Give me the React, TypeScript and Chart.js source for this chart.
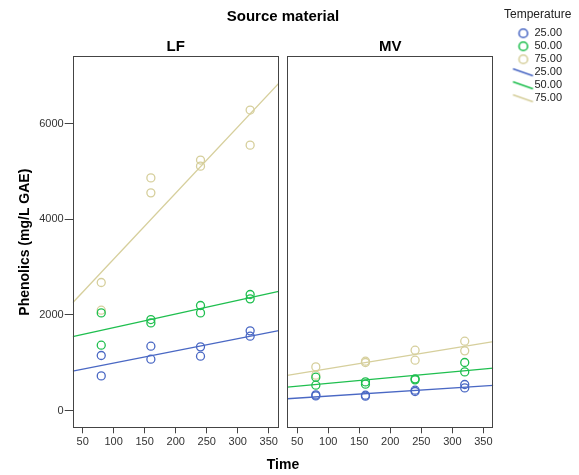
import React, { useEffect, useRef } from 'react';
import { Chart, registerables } from 'chart.js';

Chart.register(...registerables);

// ---------- data ----------
const timeValues = [80, 80, 160, 160, 240, 240, 320, 320];
const temperatureLabels = ['25.00', '50.00', '75.00'];
const panelLabels = ['LF', 'MV'];

const lf25 = [1151, 725, 1346, 1074, 1332, 1137, 1666, 1555];
const lf50 = [2042, 1367, 1903, 1833, 2196, 2042, 2426, 2335];
const lf75 = [2677, 2098, 4863, 4550, 5235, 5108, 6280, 5547];

const mv25 = [328, 307, 322, 301, 426, 399, 545, 474];
const mv50 = [698, 531, 600, 552, 663, 642, 1005, 809];
const mv75 = [913, 740, 1032, 1005, 1262, 1053, 1450, 1248];

const xTickValues = [50, 100, 150, 200, 250, 300, 350];
const yTickValues = [0, 2000, 4000, 6000];

const xMin = 34;
const xMax = 366;
const yMin = -370;
const yMax = 7410;

const temperatureColors = ['#4a68c4', '#1fbf4f', '#d6cf9c'];

// ---------- helpers ----------
function fitLine(xs: number[], ys: number[], x0: number, x1: number) {
  const n = xs.length;
  const mx = xs.reduce((a, b) => a + b, 0) / n;
  const my = ys.reduce((a, b) => a + b, 0) / n;
  let sxy = 0;
  let sxx = 0;
  for (let i = 0; i < n; i++) {
    sxy += (xs[i] - mx) * (ys[i] - my);
    sxx += (xs[i] - mx) * (xs[i] - mx);
  }
  const b = sxy / sxx;
  const a = my - b * mx;
  return [
    { x: x0, y: a + b * x0 },
    { x: x1, y: a + b * x1 },
  ];
}

function makeIcon(color: string, kind: 'circle' | 'line') {
  const c = document.createElement('canvas');
  c.width = 40;
  c.height = 12;
  const g = c.getContext('2d')!;
  g.strokeStyle = color;
  g.lineWidth = 1.6;
  g.beginPath();
  if (kind === 'circle') {
    g.arc(25.8, 6, 4.3, 0, Math.PI * 2);
  } else {
    g.moveTo(15.5, 2.5);
    g.lineTo(35.5, 9.5);
  }
  g.stroke();
  return c;
}

const panelFrame = {
  id: 'panelFrame',
  afterDatasetsDraw(chart: any) {
    const { ctx, chartArea } = chart;
    ctx.save();
    ctx.strokeStyle = '#444';
    ctx.lineWidth = 1;
    for (const id of ['xLF', 'xMV']) {
      const s = chart.scales[id];
      const l = Math.round(s.left) + 0.5;
      const r = Math.round(s.right) - 0.5;
      const t = Math.round(chartArea.top) + 0.5;
      const b = Math.round(chartArea.bottom) - 0.5;
      ctx.strokeRect(l, t, r - l, b - t);
    }
    ctx.restore();
  },
};

export default function App() {
  const canvasRef = useRef<HTMLCanvasElement | null>(null);

  useEffect(() => {
    const canvas = canvasRef.current;
    if (!canvas) return;

    Chart.defaults.font.family = "'Liberation Sans', Arial, sans-serif";

    const legendIcons = [
      ...temperatureColors.map((c) => makeIcon(c, 'circle')),
      ...temperatureColors.map((c) => makeIcon(c, 'line')),
    ];

    const panels = [
      { axis: 'xLF', series: [lf25, lf50, lf75] },
      { axis: 'xMV', series: [mv25, mv50, mv75] },
    ];

    const datasets: any[] = [];
    panels.forEach((p) => {
      p.series.forEach((vals, ti) => {
        datasets.push({
          label: temperatureLabels[ti],
          xAxisID: p.axis,
          yAxisID: 'y',
          data: vals.map((v, i) => ({ x: timeValues[i], y: v })),
          pointStyle: 'circle',
          pointRadius: 4,
          pointHoverRadius: 4,
          borderWidth: 1.3,
          borderColor: temperatureColors[ti],
          backgroundColor: 'rgba(0,0,0,0)',
          showLine: false,
        });
      });
      p.series.forEach((vals, ti) => {
        datasets.push({
          label: temperatureLabels[ti],
          xAxisID: p.axis,
          yAxisID: 'y',
          data: fitLine(timeValues, vals, xMin, xMax),
          showLine: true,
          pointRadius: 0,
          pointHoverRadius: 0,
          borderWidth: 1.3,
          borderColor: temperatureColors[ti],
          backgroundColor: temperatureColors[ti],
          fill: false,
          tension: 0,
        });
      });
    });

    const tickSetter = (values: number[]) => (scale: any) => {
      scale.ticks = values.map((v) => ({ value: v }));
    };

    const bottomAxis = (stackWeight: number) => ({
      type: 'linear',
      axis: 'x',
      position: 'bottom',
      stack: 'bottomStack',
      stackWeight,
      min: xMin,
      max: xMax,
      afterBuildTicks: tickSetter(xTickValues),
      border: { display: false },
      grid: {
        display: true,
        drawOnChartArea: false,
        drawTicks: true,
        tickLength: 5,
        color: '#444',
        lineWidth: 1,
      },
      ticks: {
        color: '#333',
        font: { size: 11 },
        padding: 1.8,
        maxRotation: 0,
        autoSkip: false,
        callback: (v: any) => String(v),
      },
    });

    const emptyAxis = (position: string, stack: string, stackWeight: number, title?: string) => ({
      type: 'linear',
      axis: 'x',
      position,
      stack,
      stackWeight,
      min: 0,
      max: 1,
      border: { display: false },
      grid: { display: false, drawTicks: false },
      ticks: { display: false },
      title: title
        ? {
            display: true,
            text: title,
            color: '#000',
            font: { size: 15, weight: 'bold' },
            padding: { top: 12, bottom: 0.5 },
          }
        : { display: false },
    });

    const chart = new Chart(canvas, {
      type: 'scatter',
      data: { datasets },
      plugins: [panelFrame],
      options: {
        animation: false,
        responsive: false,
        events: [],
        layout: { padding: { left: 0, right: 7, top: 0, bottom: 0 } },
        scales: {
          xLF: bottomAxis(206),
          xGap: emptyAxis('bottom', 'bottomStack', 8.6),
          xMV: bottomAxis(206),
          // top stack is laid out in reverse order, so MV is listed first
          xTopMV: emptyAxis('top', 'topStack', 206, panelLabels[1]),
          xTopGap: emptyAxis('top', 'topStack', 8.6),
          xTopLF: emptyAxis('top', 'topStack', 206, panelLabels[0]),
          y: {
            type: 'linear',
            position: 'left',
            min: yMin,
            max: yMax,
            afterBuildTicks: tickSetter(yTickValues),
            afterFit: (s: any) => {
              s.width = 72.7;
            },
            border: { display: false },
            grid: {
              display: true,
              drawOnChartArea: false,
              drawTicks: true,
              tickLength: 8,
              color: '#444',
              lineWidth: 1,
            },
            ticks: {
              color: '#333',
              font: { size: 11 },
              padding: 1,
              callback: (v: any) => String(v),
            },
            title: {
              display: true,
              text: 'Phenolics (mg/L GAE)',
              color: '#000',
              font: { size: 14, weight: 'bold' },
              padding: { top: 16.6, bottom: 0 },
            },
          },
          yR: {
            type: 'linear',
            position: 'right',
            min: 0,
            max: 1,
            afterFit: (s: any) => {
              s.width = 10.7;
            },
            border: { display: false },
            grid: { display: false, drawTicks: false },
            ticks: { display: false },
          },
        } as any,
        plugins: {
          title: {
            display: true,
            text: 'Source material',
            color: '#000',
            font: { size: 15, weight: 'bold' },
            padding: { top: 7.5, bottom: 0 },
            fullSize: false,
          },
          subtitle: {
            display: true,
            text: 'Time',
            position: 'bottom',
            color: '#000',
            font: { size: 14, weight: 'bold' },
            padding: { top: 6.5, bottom: 1.6 },
            fullSize: false,
          },
          legend: {
            display: true,
            position: 'right',
            align: 'start',
            title: {
              display: true,
              text: 'Temperature',
              color: '#222',
              position: 'start',
              font: { size: 12 },
              padding: { top: 9, bottom: 2.4 },
            },
            labels: {
              usePointStyle: true,
              pointStyleWidth: 23,
              boxHeight: 6,
              padding: 2,
              color: '#222',
              font: { size: 11 },
              generateLabels: (ch: any) => {
                const items = (Chart.defaults.plugins.legend.labels as any).generateLabels(ch);
                return items
                  .filter((it: any) => it.datasetIndex < 6)
                  .map((it: any) => ({
                    ...it,
                    pointStyle: legendIcons[it.datasetIndex],
                    rotation: 0,
                  }));
              },
            },
          },
          tooltip: { enabled: false },
        } as any,
      },
    } as any);

    return () => {
      chart.destroy();
    };
  }, []);

  return (
    <div style={{ position: 'absolute', left: 0, top: 0, width: 579, height: 475, background: '#fff' }}>
      <canvas ref={canvasRef} width={579} height={475} style={{ width: 579, height: 475, display: 'block' }} />
    </div>
  );
}
